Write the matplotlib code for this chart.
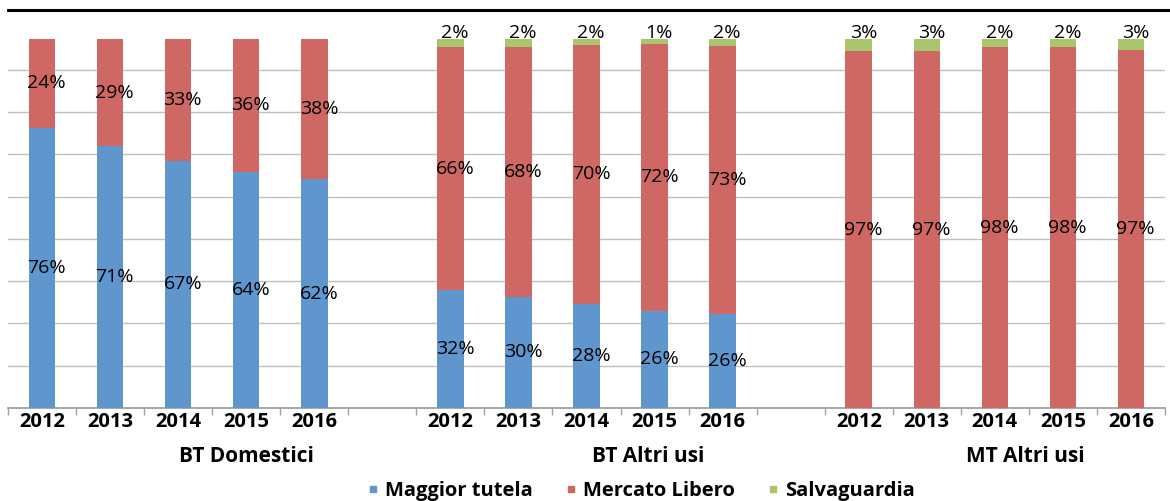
import numpy as np
import matplotlib.pyplot as plt
from matplotlib.lines import Line2D

plt.rcParams['font.family'] = ['Open Sans', 'DejaVu Sans']

groups = ['BT Domestici', 'BT Altri usi', 'MT Altri usi']
years = ['2012', '2013', '2014', '2015', '2016']
series = ['Maggior tutela', 'Mercato Libero', 'Salvaguardia']

# shares per group, years 2012-2016
tutela = [[0.76, 0.71, 0.67, 0.64, 0.62],
          [0.320, 0.302, 0.282, 0.264, 0.256],
          [0, 0, 0, 0, 0]]
libero = [[0.24, 0.29, 0.33, 0.36, 0.38],
          [0.658, 0.676, 0.702, 0.722, 0.726],
          [0.967, 0.967, 0.978, 0.978, 0.971]]
salvag = [[0, 0, 0, 0, 0],
          [0.022, 0.022, 0.016, 0.014, 0.018],
          [0.033, 0.033, 0.022, 0.022, 0.029]]

colors = ['#6096CE', '#CF6864', '#A9C66C']

fig = plt.figure(figsize=(11.7, 5.01), dpi=100)
ax = fig.add_axes([8/1170, 1 - 408/501, 1157/1170, 369/501])

n_year = len(years)
step = n_year + 1
pos, blue, red, green, ticklab = [], [], [], [], []
for g in range(len(groups)):
    for j in range(n_year):
        pos.append(g * step + j)
        blue.append(tutela[g][j])
        red.append(libero[g][j])
        green.append(salvag[g][j])
        ticklab.append(years[j])
pos = np.array(pos)
blue, red, green = np.array(blue), np.array(red), np.array(green)

w = 0.39
ax.bar(pos, blue, w, color=colors[0], zorder=3)
ax.bar(pos, red, w, bottom=blue, color=colors[1], zorder=3)
ax.bar(pos, green, w, bottom=blue + red, color=colors[2], zorder=3)

def lab(v):
    return f"{round(v * 100)}%"

fs_lab = 14
for x, b, r, gr in zip(pos, blue, red, green):
    if b > 0:
        ax.annotate(lab(b), (x, b / 2), xytext=(3.3, 0), textcoords='offset points',
                    ha='center', va='center', fontsize=fs_lab, zorder=5)
    if r > 0:
        ax.annotate(lab(r), (x, b + r / 2), xytext=(3.3, 0), textcoords='offset points',
                    ha='center', va='center', fontsize=fs_lab, zorder=5)
    if gr > 0:
        ax.annotate(lab(gr), (x, b + r + gr), xytext=(3.3, -2.5), textcoords='offset points',
                    ha='center', va='bottom', fontsize=fs_lab, zorder=5, annotation_clip=False)

ax.set_xlim(-0.48, len(groups) * step - 1 - 0.5)
ax.set_ylim(0, 1.0)

grid_step = 0.1146
ax.set_yticks(np.arange(1, 9) * grid_step)
ax.yaxis.grid(True, color='#BFBFBF', lw=1, zorder=0)
ax.tick_params(axis='y', left=False, labelleft=False)

ax.set_xticks(pos)
ax.set_xticklabels(ticklab, fontsize=14.5, fontweight='bold')
ax.tick_params(axis='x', length=0, pad=3)
ax.set_xticks(np.arange(-0.5, len(groups) * step - 0.5, 1), minor=True)
ax.tick_params(axis='x', which='minor', length=5, color='#A0A0A0', width=1)

for s in ['top', 'left', 'right']:
    ax.spines[s].set_visible(False)
ax.spines['bottom'].set_color('#A0A0A0')
ax.spines['bottom'].set_linewidth(1.3)

# group names under the years
group_x = [3.0, 8.9, 14.45]
for gx, name in zip(group_x, groups):
    ax.text(gx, -0.132, name, ha='center', va='center', fontsize=15,
            fontweight='bold', transform=ax.get_xaxis_transform())

# black rule at the top
fig.add_artist(Line2D([8/1170, 1], [1 - 10/501, 1 - 10/501], color='black', lw=2.2))

handles = [Line2D([], [], ls='none', marker='s', markersize=5, color=c) for c in colors]
leg = fig.legend(handles, series, loc='center', bbox_to_anchor=(0.548, 1 - 491/501),
                 ncol=3, frameon=False, handlelength=0.6, handletextpad=0.3,
                 columnspacing=1.6, prop={'size': 14.5, 'weight': 'bold'})

fig.savefig('out.png', dpi=100)
